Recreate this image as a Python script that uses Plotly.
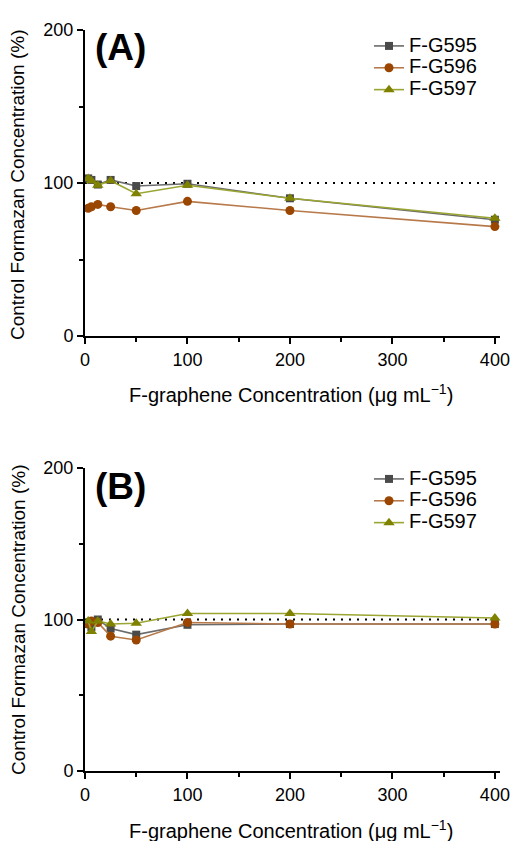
import plotly.graph_objects as go

conc = [3.125, 6.25, 12.5, 25, 50, 100, 200, 400]
series_names = ["F-G595", "F-G596", "F-G597"]

a_g595 = [103, 102, 99, 102, 98, 99.5, 90, 76]
a_g596 = [83.5, 84.5, 86, 84.5, 82, 88, 82, 71.5]
a_g597 = [103, 101.5, 98.5, 101.5, 93, 98.5, 90, 77]

b_g595 = [97, 95, 100, 94, 90, 96.5, 97, 97]
b_g596 = [97, 99, 98, 89, 86.5, 98, 97, 97]
b_g597 = [99, 92, 99, 97, 97.5, 104, 104, 101]

ref_x = [0, 400]
ref_y = [100, 100]

W, H = 512, 841


def px(x):
    return x / W


def py(y):
    return 1 - y / H


styles = [
    dict(line="#6b6b6b", marker="#4a4a4a", symbol="square", size=8),
    dict(line="#b8794a", marker="#9a4500", symbol="circle", size=9),
    dict(line="#9aa532", marker="#7f8200", symbol="triangle-up", size=10),
]

fig = go.Figure()

panels = [
    ("x", "y", [a_g595, a_g596, a_g597], "legend"),
    ("x2", "y2", [b_g595, b_g596, b_g597], "legend2"),
]

for xa, ya, data, leg in panels:
    fig.add_trace(go.Scatter(x=ref_x, y=ref_y, mode="lines", xaxis=xa, yaxis=ya,
                             line=dict(color="black", dash="2px,6px", width=2),
                             showlegend=False, hoverinfo="skip"))
    for name, vals, st in zip(series_names, data, styles):
        fig.add_trace(go.Scatter(x=conc, y=vals, mode="lines+markers",
                                 name='<span style="font-size:20px">' + name + '</span>',
                                 xaxis=xa, yaxis=ya, legend=leg, cliponaxis=False,
                                 line=dict(color=st["line"], width=1.6),
                                 marker=dict(color=st["marker"], symbol=st["symbol"], size=st["size"])))

FAM = "Liberation Sans, Arial, sans-serif"
tickfont = dict(family=FAM, size=18, color="black")
legfont = dict(family=FAM, size=14.5, color="black")
xtitlefont = dict(family=FAM, size=20, color="black")
ytitlefont = dict(family=FAM, size=19, color="black")

x_dom = [px(85), px(500)]
yA = [py(336), py(30)]
yB = [py(771), py(468)]

xax = dict(range=[0, 405], showline=True, linecolor="black", linewidth=2,
           ticks="outside", ticklen=6, tickwidth=2, tickcolor="black",
           tickvals=[0, 100, 200, 300, 400], showgrid=False, zeroline=False,
           minor=dict(ticks="outside", ticklen=4, tickwidth=2, tickcolor="black",
                      tickvals=[50, 150, 250, 350]),
           tickfont=tickfont, automargin=False)
yax = dict(range=[0, 200], showline=True, linecolor="black", linewidth=2,
           ticks="outside", ticklen=6, tickwidth=2, tickcolor="black",
           tickvals=[0, 100, 200], showgrid=False, zeroline=False,
           minor=dict(ticks="outside", ticklen=4, tickwidth=2, tickcolor="black",
                      tickvals=[50, 150]),
           tickfont=tickfont, automargin=False)

fig.update_layout(
    width=W, height=H,
    margin=dict(l=0, r=0, t=0, b=0),
    paper_bgcolor="white", plot_bgcolor="white",
    font=tickfont,
    xaxis=dict(xax, domain=x_dom, anchor="y"),
    yaxis=dict(yax, domain=yA, anchor="x"),
    xaxis2=dict(xax, domain=x_dom, anchor="y2"),
    yaxis2=dict(yax, domain=yB, anchor="x2"),
    legend=dict(x=px(369), y=py(30), xanchor="left", yanchor="top",
                bgcolor="rgba(0,0,0,0)", font=legfont, tracegroupgap=0),
    legend2=dict(x=px(369), y=py(463), xanchor="left", yanchor="top",
                 bgcolor="rgba(0,0,0,0)", font=legfont, tracegroupgap=0),
    showlegend=True,
)

panel_font = dict(family=FAM, size=37, color="black")
anns = [
    dict(text="<b>(A)</b>", x=px(93), y=py(48), xanchor="left", yanchor="middle", font=panel_font),
    dict(text="<b>(B)</b>", x=px(93), y=py(486), xanchor="left", yanchor="middle", font=panel_font),
    dict(text="F-graphene Concentration (μg mL<sup>−1</sup>)", x=px(291), y=py(393),
         xanchor="center", yanchor="middle", font=xtitlefont),
    dict(text="F-graphene Concentration (μg mL<sup>−1</sup>)", x=px(291), y=py(829),
         xanchor="center", yanchor="middle", font=xtitlefont),
    dict(text="Control Formazan Concentration (%)", x=px(18), y=py(185),
         xanchor="center", yanchor="middle", textangle=-90, font=ytitlefont),
    dict(text="Control Formazan Concentration (%)", x=px(18), y=py(620),
         xanchor="center", yanchor="middle", textangle=-90, font=ytitlefont),
]
for a in anns:
    a.update(xref="paper", yref="paper", showarrow=False)
fig.update_layout(annotations=anns)

fig.write_html("out.html", config={"displayModeBar": False},
               post_script="document.body.style.margin='0';document.body.style.overflow='hidden';")
